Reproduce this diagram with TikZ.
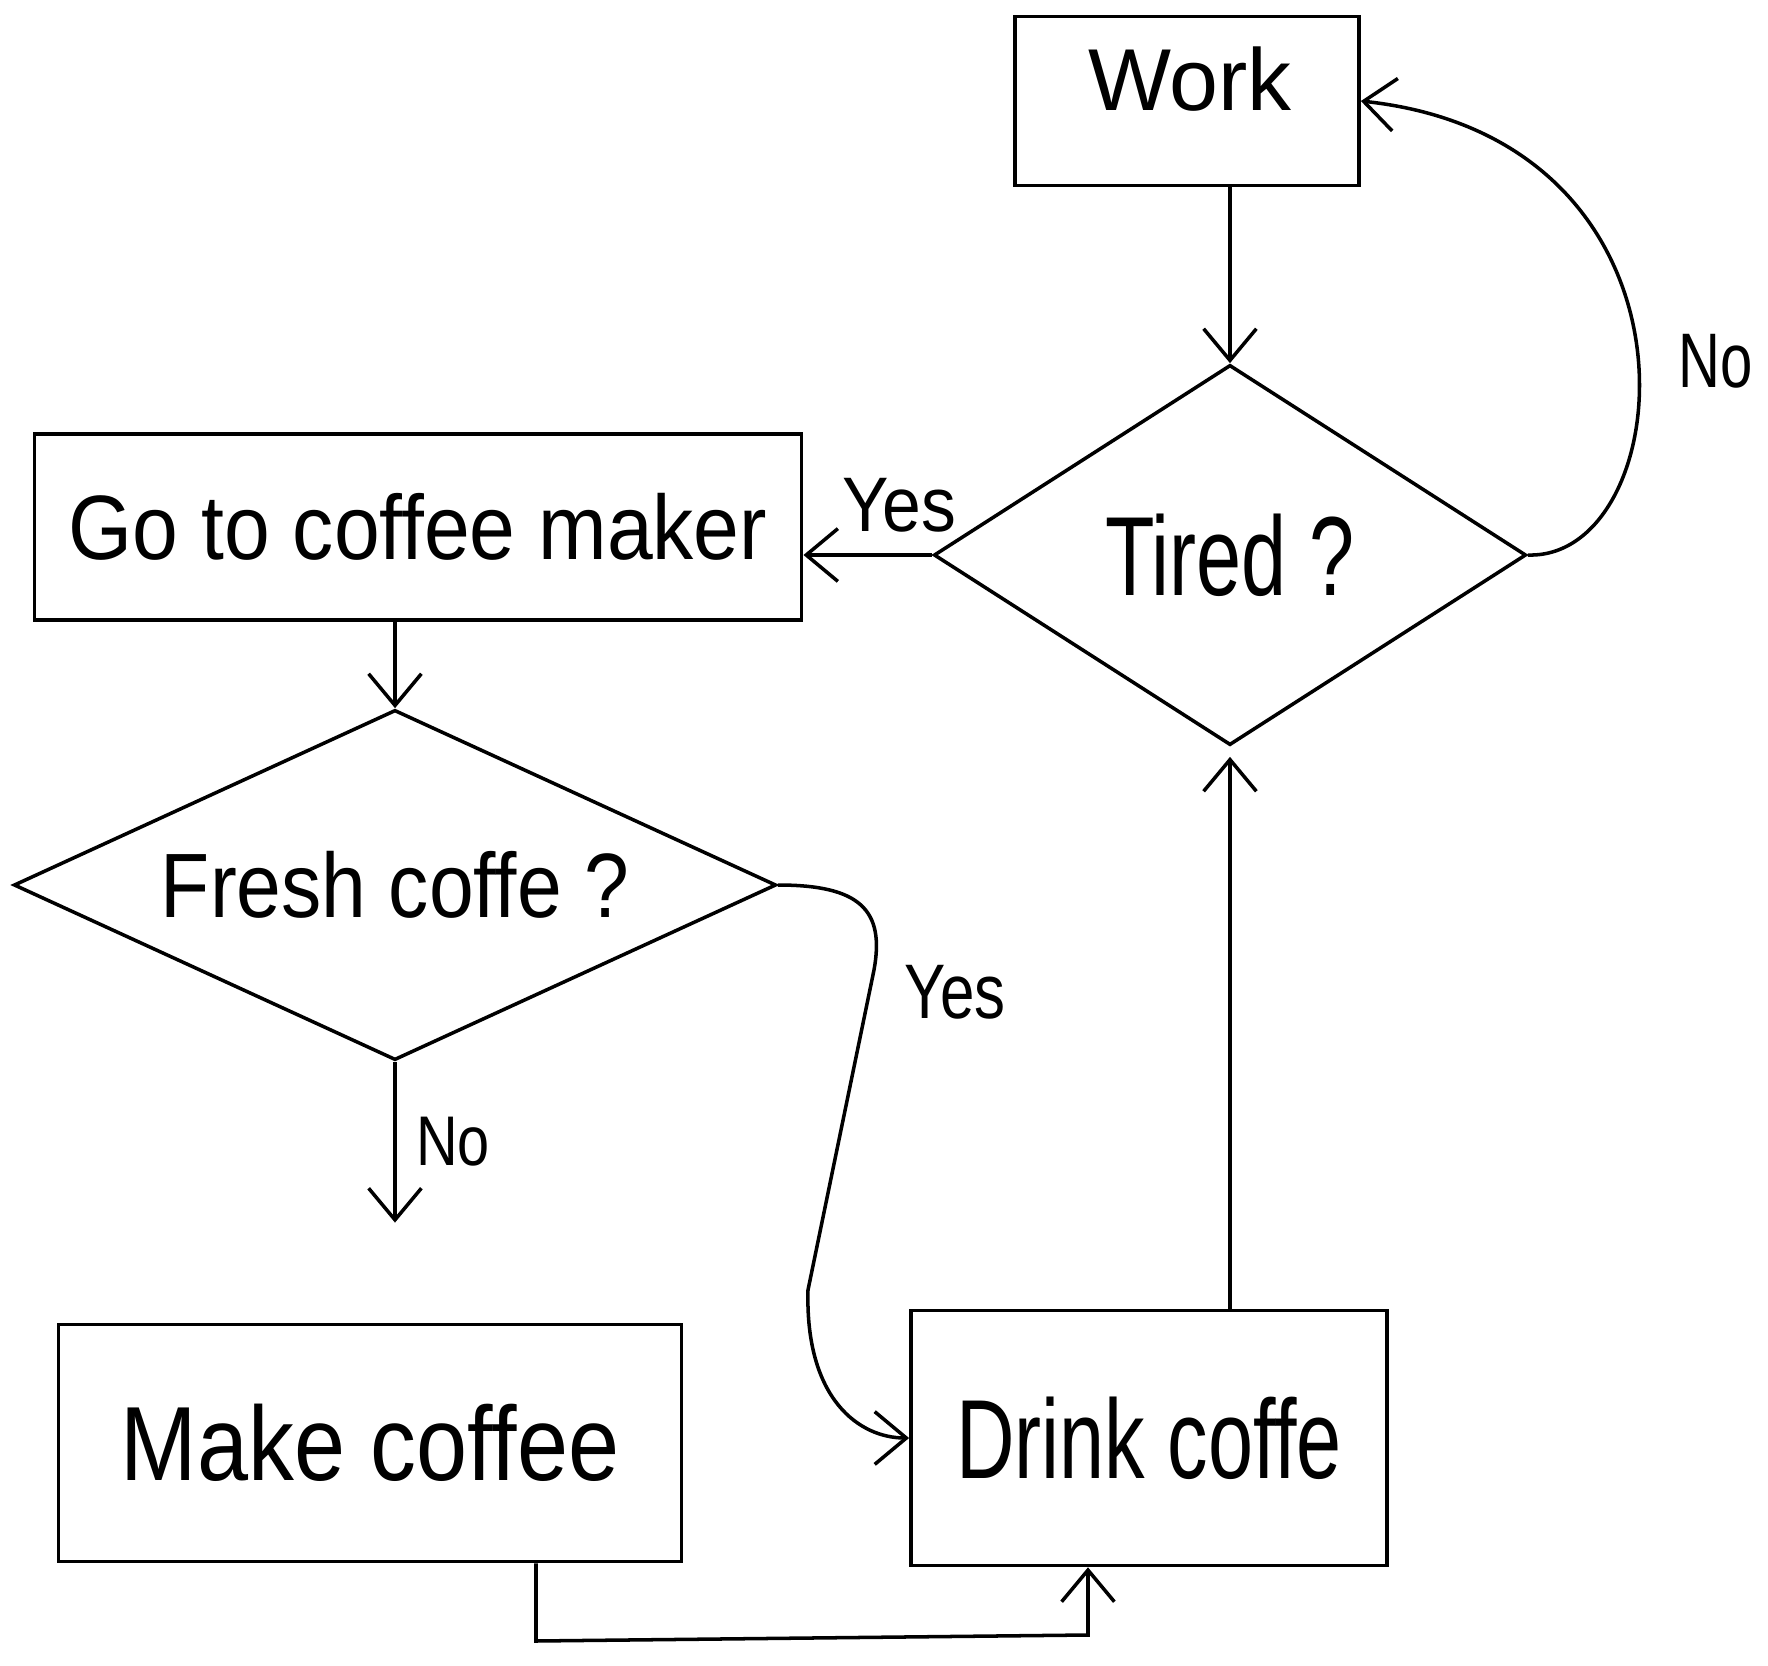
\documentclass[tikz,border=0pt]{standalone}
\usepackage{fontspec}
\setmainfont{Liberation Sans}
\usetikzlibrary{arrows.meta,shapes.geometric}
\newcommand{\hwt}[3]{\scalebox{#1}[1]{\fontsize{#2}{#2}\selectfont #3}}
\begin{document}
\begin{tikzpicture}[x=0.01cm,y=-0.01cm, line width=1pt,
  box/.style={draw, rectangle, inner sep=0pt},
  dia/.style={draw, diamond, inner sep=0pt},
  arr/.style={-{Straight Barb[length=9pt,width=15pt]}},
  lbl/.style={inner sep=0pt}]
\useasboundingbox (0,0) rectangle (1768,1666);
% nodes
\node[box, minimum width=3.44cm, minimum height=1.69cm] (work) at (1187,101) {};
\node[lbl] (worktxt) at (1190,79) {\hwt{1}{25pt}{Work}};
\node[dia, aspect=1.56, minimum width=5.92cm, minimum height=3.8cm] (tired) at (1230,555) {\hwt{0.72}{32pt}{Tired ?}};
\node[box, minimum width=7.67cm, minimum height=1.86cm] (go) at (418,527) {\hwt{0.9}{26pt}{Go to coffee maker}};
\node[dia, aspect=2.18, minimum width=7.62cm, minimum height=3.5cm] (fresh) at (395,885) {\hwt{0.88}{26pt}{Fresh coffe ?}};
\node[box, minimum width=6.23cm, minimum height=2.37cm] (make) at (370,1443) {\hwt{0.87}{30pt}{Make coffee}};
\node[box, minimum width=4.76cm, minimum height=2.55cm] (drink) at (1149,1438) {\hwt{0.72}{32pt}{Drink coffe}};
% labels
\node[lbl] (noA) at (1716,361) {\hwt{0.75}{22pt}{No}};
\node[lbl] (yesA) at (899,505) {\hwt{0.9}{22pt}{Yes}};
\node[lbl] (noB) at (453,1142) {\hwt{0.82}{20pt}{No}};
\node[lbl] (yesB) at (955,992) {\hwt{0.8}{22pt}{Yes}};
% connectors
\draw[arr] (work.south -| tired.north) -- (tired.north);
\draw[arr] (tired.east) .. controls (1680,560) and (1720,140) .. (work.east);
\draw[arr] (tired.west) -- (tired.west -| go.east);
\draw[arr] (go.south -| fresh.north) -- (fresh.north);
\draw[arr, shorten >=1cm] (fresh.south) -- (fresh.south |- make.north);
\draw[arr] (fresh.east) .. controls (860,885) and (885,910) .. (874,970) -- (808,1290) .. controls (805,1400) and (860,1438) .. (drink.west);
\coordinate (mk) at (536,1641);
\coordinate (dk) at (1088,1635);
\draw[arr] (make.south -| mk) -- (mk) -- (dk) -- (drink.south -| dk);
\draw[arr, shorten >=0.1cm] (tired.south |- drink.north) -- (tired.south);
\end{tikzpicture}
\end{document}
